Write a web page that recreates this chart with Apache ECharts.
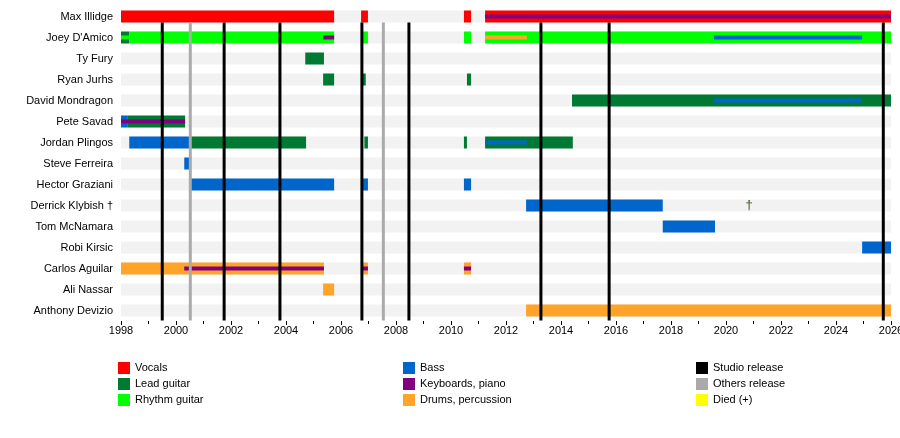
<!DOCTYPE html>
<html>
<head>
<meta charset="utf-8">
<title>timeline</title>
<script src="https://cdn.jsdelivr.net/npm/echarts@6/dist/echarts.min.js"></script>
<style>
  html, body { margin: 0; background: #fff; }
  #chart { width: 900px; height: 438px; }
</style>
</head>
<body>
<div id="chart"></div>
<script>
var members = ['Max Illidge', "Joey D'Amico", 'Ty Fury', 'Ryan Jurhs', 'David Mondragon', 'Pete Savad',
  'Jordan Plingos', 'Steve Ferreira', 'Hector Graziani', 'Derrick Klybish \u2020', 'Tom McNamara',
  'Robi Kirsic', 'Carlos Aguilar', 'Ali Nassar', 'Anthony Devizio'];

// [member index, start, end]
var vocals = [[0, 1998, 2005.75], [0, 2006.73, 2006.98], [0, 2010.47, 2010.73], [0, 2011.24, 2026]];
var leadGuitar = [[1, 1998, 1998.3], [2, 2004.7, 2005.38], [3, 2005.35, 2005.75], [3, 2006.76, 2006.9],
  [3, 2010.58, 2010.73], [4, 2014.4, 2026], [5, 1998.25, 2000.33], [6, 2000.52, 2004.73],
  [6, 2006.85, 2006.98], [6, 2010.47, 2010.58], [6, 2011.24, 2014.43]];
var rhythmGuitar = [[1, 1998.3, 2005.75], [1, 2006.73, 2006.98], [1, 2010.47, 2010.73], [1, 2011.24, 2026]];
var bass = [[5, 1998, 1998.25], [6, 1998.3, 2000.52], [7, 2000.3, 2000.55], [8, 2000.52, 2005.75],
  [8, 2006.73, 2006.98], [8, 2010.47, 2010.73], [9, 2012.73, 2017.7], [10, 2017.7, 2019.6], [11, 2024.95, 2026]];
var keyboards = [];
var drums = [[12, 1998, 2005.38], [12, 2006.73, 2006.98], [12, 2010.47, 2010.73], [13, 2005.35, 2005.75],
  [14, 2012.73, 2026]];

// thin secondary-role stripes
var thinKeyboards = [[0, 2011.24, 2026], [1, 2005.35, 2005.75], [5, 1998, 2000.33], [12, 2000.3, 2005.38],
  [12, 2006.73, 2006.98], [12, 2010.47, 2010.73]];
var thinDrums = [[1, 2011.24, 2012.76]];
var thinBass = [[1, 2019.56, 2024.95], [4, 2019.56, 2024.95], [6, 2011.24, 2012.76]];
var thinRhythm = [[1, 1998, 1998.3]];

var studioReleases = [1999.5, 2001.75, 2003.78, 2006.76, 2008.47, 2013.27, 2015.75, 2025.72];
var otherReleases = [2000.52, 2007.54];
var died = [[9, 2020.84]];

var colors = {
  vocals: '#ff0000', lead: '#007a33', rhythm: '#00ff00', bass: '#0066cc',
  keys: '#800080', drums: '#ffa329', studio: '#000000', others: '#aaaaaa', died: '#ffff00'
};

function barItem(h) {
  return function (params, api) {
    var s = api.coord([api.value(1), api.value(0)]);
    var e = api.coord([api.value(2), api.value(0)]);
    return { type: 'rect', shape: { x: s[0], y: s[1] - h / 2, width: e[0] - s[0], height: h },
      style: { fill: api.visual('color') } };
  };
}
function lineItem(params, api) {
  var top = api.coord([api.value(0), 0]);
  var bot = api.coord([api.value(0), members.length - 1]);
  return { type: 'rect', shape: { x: top[0] - 1.5, y: top[1] + 6, width: 3, height: bot[1] + 10 - top[1] - 6 },
    style: { fill: api.visual('color') } };
}

var bg = members.map(function (m, i) { return [i, 1998, 2026]; });

function bars(name, data, color, h, z) {
  return { name: name, type: 'custom', renderItem: barItem(h), data: data, z: z,
    itemStyle: { color: color }, encode: { x: [1, 2], y: 0 } };
}

var series = [
  { type: 'custom', renderItem: barItem(12), data: bg, itemStyle: { color: '#f2f2f2' }, z: 1, silent: true, encode: { x: [1, 2], y: 0 } },
  bars('Vocals', vocals, colors.vocals, 12, 3),
  bars('Lead guitar', leadGuitar, colors.lead, 12, 3),
  bars('Rhythm guitar', rhythmGuitar, colors.rhythm, 12, 3),
  bars('Bass', bass, colors.bass, 12, 3),
  bars('Keyboards, piano', keyboards, colors.keys, 12, 3),
  bars('Drums, percussion', drums, colors.drums, 12, 3),
  bars('Rhythm guitar', thinRhythm, colors.rhythm, 4, 4),
  bars('Keyboards, piano', thinKeyboards, colors.keys, 4, 4),
  bars('Drums, percussion', thinDrums, colors.drums, 4, 4),
  bars('Bass', thinBass, colors.bass, 4, 4),
  { name: 'Studio release', type: 'custom', renderItem: lineItem, data: studioReleases.map(function (v) { return [v]; }),
    itemStyle: { color: colors.studio }, z: 5, encode: { x: 0 } },
  { name: 'Others release', type: 'custom', renderItem: lineItem, data: otherReleases.map(function (v) { return [v]; }),
    itemStyle: { color: colors.others }, z: 5, encode: { x: 0 } },
  { name: 'Died (+)', type: 'custom', itemStyle: { color: colors.died }, z: 6, data: died,
    encode: { x: 1, y: 0 },
    renderItem: function (params, api) {
      var p = api.coord([api.value(1), api.value(0)]);
      return { type: 'text', style: { x: p[0], y: p[1], text: '\u2020', fill: '#556b2f', fontSize: 13,
        align: 'center', verticalAlign: 'middle', fontWeight: 'bold' } };
    } }
];

function legend(left, names) {
  return { left: left, top: 357, orient: 'vertical', itemGap: 4, itemWidth: 12, itemHeight: 12, icon: 'rect',
    data: names, selectedMode: false, textStyle: { fontSize: 11, color: '#000', fontFamily: 'Liberation Sans' } };
}

var chart = echarts.init(document.getElementById('chart'));
chart.setOption({
  animation: false,
  textStyle: { fontFamily: 'Liberation Sans' },
  grid: { left: 121, right: 9, top: 6, height: 315, outerBoundsMode: 'none' },
  legend: [
    legend(113, ['Vocals', 'Lead guitar', 'Rhythm guitar']),
    legend(398, ['Bass', 'Keyboards, piano', 'Drums, percussion']),
    legend(691, ['Studio release', 'Others release', 'Died (+)'])
  ],
  xAxis: {
    type: 'value', min: 1998, max: 2026, interval: 2,
    axisLine: { lineStyle: { color: '#000' } },
    axisTick: { show: true, length: 4, lineStyle: { color: '#000' } },
    minorTick: { show: true, splitNumber: 2, length: 3, lineStyle: { color: '#000' } },
    splitLine: { show: false },
    axisLabel: { color: '#000', fontSize: 11, margin: 4, showMaxLabel: true,
      formatter: function (v) { return String(v); } }
  },
  yAxis: {
    type: 'category', data: members, inverse: true,
    axisLine: { show: false }, axisTick: { show: false },
    axisLabel: { color: '#000', fontSize: 11, margin: 8 }
  },
  series: series
});
</script>
</body>
</html>
